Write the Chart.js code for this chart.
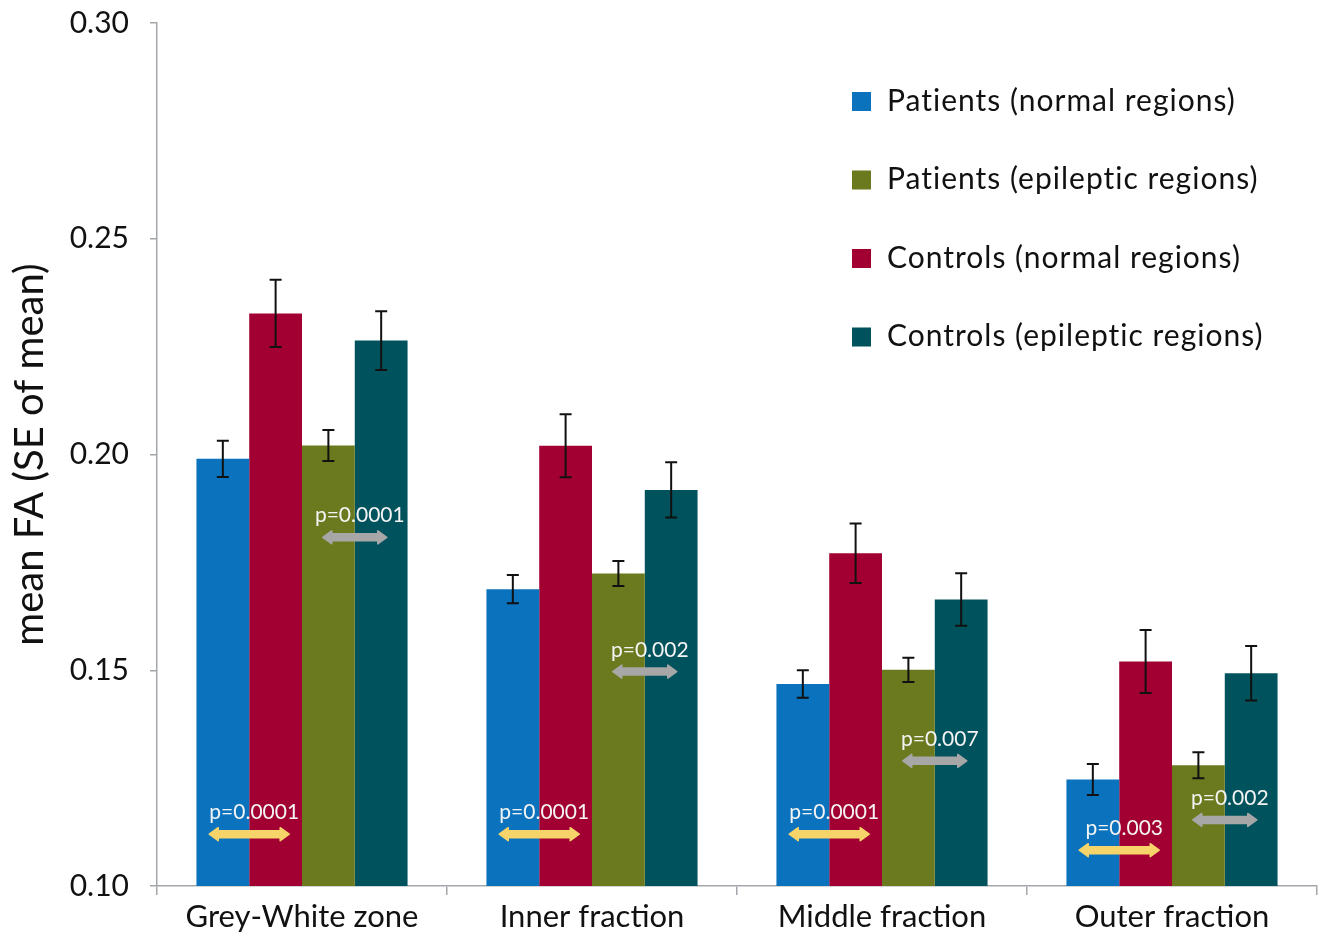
<!DOCTYPE html>
<html>
<head>
<meta charset="utf-8">
<script src="https://cdn.jsdelivr.net/npm/chart.js@4/dist/chart.umd.min.js"></script>
<style>
  html, body { margin: 0; padding: 0; background: #ffffff; }
  #wrap { width: 1331px; height: 941px; }
</style>
</head>
<body>
<div id="wrap"><canvas id="c" width="1331" height="941"></canvas></div>
<script>
// Regions along the x axis
const categories = ['Grey-White zone', 'Inner fraction', 'Middle fraction', 'Outer fraction'];

// Mean FA and standard error per group
const patientsNormal      = [0.1990, 0.1688, 0.1468, 0.1247];
const patientsNormalSE    = [0.0042, 0.0033, 0.0032, 0.0036];
const controlsNormal      = [0.2327, 0.2020, 0.1771, 0.1520];
const controlsNormalSE    = [0.0078, 0.0073, 0.0069, 0.0073];
const patientsEpileptic   = [0.2021, 0.1724, 0.1501, 0.1280];
const patientsEpilepticSE = [0.0036, 0.0029, 0.0028, 0.0030];
const controlsEpileptic   = [0.2264, 0.1918, 0.1664, 0.1493];
const controlsEpilepticSE = [0.0068, 0.0064, 0.0061, 0.0063];

// Significance markers: patients vs controls, normal regions (yellow)
const pNormalLabels = ['p=0.0001', 'p=0.0001', 'p=0.0001', 'p=0.003'];
const pNormalLevel  = [0.1120, 0.1120, 0.1120, 0.1083];
// Significance markers: patients vs controls, epileptic regions (grey)
const pEpiLabels = ['p=0.0001', 'p=0.002', 'p=0.007', 'p=0.002'];
const pEpiLevel  = [0.1808, 0.1497, 0.1290, 0.1153];

// y axis tick values
const yTicks = [0.10, 0.15, 0.20, 0.25, 0.30];

const FONT = 'Lato, "Open Sans", sans-serif';
const AXIS_GREY = '#a3a7ab';

// Datasets in the order bars appear within a group
const datasets = [
  { label: 'Patients (normal regions)',    data: patientsNormal,    se: patientsNormalSE,    backgroundColor: '#0b72bd', legendOrder: 0 },
  { label: 'Controls (normal regions)',    data: controlsNormal,    se: controlsNormalSE,    backgroundColor: '#a20033', legendOrder: 2 },
  { label: 'Patients (epileptic regions)', data: patientsEpileptic, se: patientsEpilepticSE, backgroundColor: '#6b7a1e', legendOrder: 1 },
  { label: 'Controls (epileptic regions)', data: controlsEpileptic, se: controlsEpilepticSE, backgroundColor: '#00525d', legendOrder: 3 }
];

// Error bars (mean ± SE)
const errorBars = {
  id: 'errorBars',
  afterDatasetsDraw(chart) {
    const ctx = chart.ctx, y = chart.scales.y;
    ctx.save();
    ctx.strokeStyle = '#111111';
    ctx.lineWidth = 2;
    chart.data.datasets.forEach((ds, di) => {
      const meta = chart.getDatasetMeta(di);
      meta.data.forEach((bar, i) => {
        const v = ds.data[i], e = ds.se[i];
        const yt = y.getPixelForValue(v + e), yb = y.getPixelForValue(v - e);
        const cap = 6;
        ctx.beginPath();
        ctx.moveTo(bar.x, yt); ctx.lineTo(bar.x, yb);
        ctx.moveTo(bar.x - cap, yt); ctx.lineTo(bar.x + cap, yt);
        ctx.moveTo(bar.x - cap, yb); ctx.lineTo(bar.x + cap, yb);
        ctx.stroke();
      });
    });
    ctx.restore();
  }
};

// Double-headed arrows with p-values between paired bars
function drawArrow(ctx, xa, xb, yc, color) {
  const head = 9, half = 3.5, wing = 6.5;
  ctx.fillStyle = color;
  ctx.beginPath();
  ctx.moveTo(xa, yc);
  ctx.lineTo(xa + head, yc - wing);
  ctx.lineTo(xa + head, yc - half);
  ctx.lineTo(xb - head, yc - half);
  ctx.lineTo(xb - head, yc - wing);
  ctx.lineTo(xb, yc);
  ctx.lineTo(xb - head, yc + wing);
  ctx.lineTo(xb - head, yc + half);
  ctx.lineTo(xa + head, yc + half);
  ctx.lineTo(xa + head, yc + wing);
  ctx.closePath();
  ctx.fill();
  ctx.lineJoin = 'round';
  ctx.strokeStyle = color;
  ctx.lineWidth = 1.5;
  ctx.stroke();
}
const pMarkers = {
  id: 'pMarkers',
  afterDatasetsDraw(chart) {
    const ctx = chart.ctx, y = chart.scales.y;
    const groups = [
      { a: 0, b: 1, labels: pNormalLabels, level: pNormalLevel, color: '#f7d46a', half: 40 },
      { a: 2, b: 3, labels: pEpiLabels,    level: pEpiLevel,    color: '#a7a7a7', half: 32 }
    ];
    ctx.save();
    groups.forEach(g => {
      const ma = chart.getDatasetMeta(g.a), mb = chart.getDatasetMeta(g.b);
      g.labels.forEach((txt, i) => {
        const xc = (ma.data[i].x + mb.data[i].x) / 2;
        const yc = y.getPixelForValue(g.level[i]);
        drawArrow(ctx, xc - g.half, xc + g.half, yc, g.color);
        ctx.fillStyle = '#f4f4f4';
        ctx.font = '21px ' + FONT;
        ctx.textAlign = 'center';
        ctx.textBaseline = 'alphabetic';
        ctx.fillText(txt, xc + 5, yc - 15);
      });
    });
    ctx.restore();
  }
};

// Legend listed as patients first, then controls
const sideLegend = {
  id: 'sideLegend',
  afterDraw(chart) {
    const ctx = chart.ctx;
    const items = chart.data.datasets.slice().sort((p, q) => p.legendOrder - q.legendOrder);
    ctx.save();
    ctx.font = '30px ' + FONT;
    if ('letterSpacing' in ctx) ctx.letterSpacing = '1px';
    ctx.textBaseline = 'middle';
    ctx.textAlign = 'left';
    items.forEach((ds, k) => {
      const yc = 101 + k * 78.5;
      ctx.fillStyle = ds.backgroundColor;
      ctx.fillRect(852, yc - 9, 19, 19);
      ctx.fillStyle = '#111111';
      ctx.fillText(ds.label, 887, yc);
    });
    ctx.restore();
  }
};

new Chart(document.getElementById('c'), {
  type: 'bar',
  data: { labels: categories, datasets },
  options: {
    responsive: false,
    animation: false,
    devicePixelRatio: 1,
    layout: { padding: { left: 6, right: 14, top: 23, bottom: 0 } },
    datasets: { bar: { categoryPercentage: 0.728, barPercentage: 1.0, borderWidth: 0 } },
    plugins: {
      legend: { display: false },
      tooltip: { enabled: false }
    },
    scales: {
      x: {
        grid: { display: true, drawOnChartArea: false, offset: true, color: AXIS_GREY, tickLength: 9, lineWidth: 1.5 },
        border: { display: true, color: AXIS_GREY, width: 1.5 },
        ticks: { color: '#111111', font: { family: FONT, size: 31 }, padding: 3, maxRotation: 0 },
        afterFit(s) { s.height = 55; }
      },
      y: {
        min: 0.10,
        max: 0.30,
        afterBuildTicks(s) { s.ticks = yTicks.map(v => ({ value: v })); },
        grid: { display: true, drawOnChartArea: false, color: AXIS_GREY, tickLength: 7, lineWidth: 1.5 },
        border: { display: true, color: AXIS_GREY, width: 1.5 },
        ticks: {
          color: '#111111',
          font: { family: FONT, size: 30 },
          padding: 21,
          callback: v => Number(v).toFixed(2)
        },
        title: {
          display: true,
          text: 'mean FA (SE of mean)',
          color: '#111111',
          font: { family: FONT, size: 40 },
          padding: { top: 0, bottom: 0 }
        },
        afterFit(s) { s.width = 151; s.paddingTop = 0; s.paddingBottom = 0; }
      }
    }
  },
  plugins: [errorBars, pMarkers, sideLegend]
});
</script>
</body>
</html>
